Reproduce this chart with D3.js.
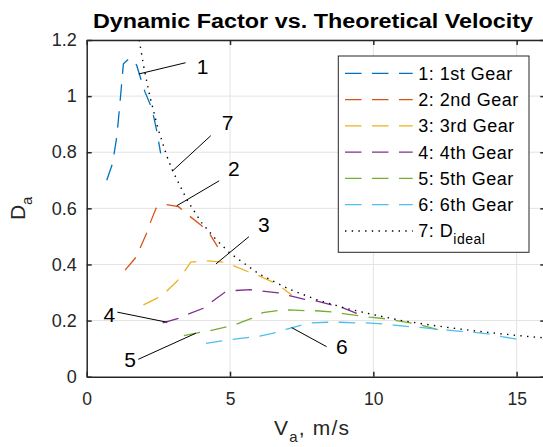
<!DOCTYPE html>
<html>
<head>
<meta charset="utf-8">
<script src="https://cdn.jsdelivr.net/npm/d3@7"></script>
<style>
  body { margin: 0; background: #fff; }
  svg { display: block; font-family: "Liberation Sans", Arial, sans-serif; }
  .axis text { font-size: 17.5px; fill: #262626; }
  .axis path, .axis line { stroke: #262626; }
</style>
</head>
<body>
<svg id="chart" width="543" height="447"></svg>
<script>
// speeds (m/s) and dynamic factor for each gear
var gear1V = [0.70, 0.90, 1.05, 1.16, 1.28, 1.49, 1.74, 1.92, 2.03, 2.27, 2.35, 2.46, 2.58];
var gear1D = [0.700, 0.760, 0.855, 0.975, 1.115, 1.135, 1.111, 1.051, 1.016, 0.957, 0.921, 0.868, 0.796];
var gear2V = [1.34, 1.69, 1.86, 2.09, 2.21, 2.42, 2.77, 3.20, 3.58, 3.98, 4.28, 4.57];
var gear2D = [0.380, 0.422, 0.458, 0.511, 0.547, 0.600, 0.614, 0.606, 0.573, 0.541, 0.511, 0.463];
var gear3V = [1.98, 2.44, 2.77, 3.14, 3.43, 3.63, 3.84, 4.21, 4.77, 5.11, 5.64, 6.02, 6.51, 6.84, 7.15];
var gear3D = [0.256, 0.279, 0.303, 0.339, 0.378, 0.408, 0.410, 0.413, 0.408, 0.396, 0.374, 0.359, 0.336, 0.315, 0.291];
var gear4V = [2.65, 3.20, 3.54, 4.07, 4.36, 4.82, 5.17, 5.72, 6.14, 6.68, 7.07, 7.61, 8.00, 8.55, 8.89, 9.42];
var gear4D = [0.192, 0.208, 0.223, 0.244, 0.267, 0.301, 0.307, 0.310, 0.305, 0.299, 0.289, 0.276, 0.270, 0.256, 0.247, 0.226];
var gear5V = [3.39, 3.95, 4.30, 4.90, 5.25, 5.75, 6.14, 6.72, 7.07, 7.65, 8.00, 8.55, 8.95, 9.51, 9.88, 10.46, 10.81, 11.39, 11.77, 12.30];
var gear5D = [0.146, 0.158, 0.164, 0.178, 0.188, 0.208, 0.228, 0.236, 0.238, 0.235, 0.235, 0.231, 0.225, 0.217, 0.212, 0.206, 0.200, 0.190, 0.181, 0.166];
var gear6V = [4.16, 4.71, 5.09, 5.67, 6.04, 6.60, 6.95, 7.50, 7.88, 8.43, 8.84, 9.36, 9.77, 10.32, 10.72, 11.30, 11.65, 12.21, 12.61, 13.16, 13.54, 14.13, 14.48, 15.05];
var gear6D = [0.119, 0.128, 0.133, 0.140, 0.145, 0.157, 0.169, 0.184, 0.192, 0.194, 0.194, 0.192, 0.192, 0.188, 0.184, 0.178, 0.176, 0.169, 0.166, 0.160, 0.158, 0.151, 0.143, 0.133];
var idealV = [1.83, 2.0, 2.2, 2.5, 2.8, 3.0, 3.5, 4.0, 4.5, 5.0, 6.0, 7.0, 8.0, 9.0, 10.0, 11.0, 12.0, 13.0, 14.0, 15.0, 16.0];
var idealD = [1.2, 1.1, 1.0, 0.88, 0.785, 0.733, 0.63, 0.55, 0.49, 0.44, 0.367, 0.315, 0.275, 0.245, 0.221, 0.2, 0.184, 0.17, 0.158, 0.147, 0.138];

var legendNames = ['1: 1st Gear', '2: 2nd Gear', '3: 3rd Gear', '4: 4th Gear', '5: 5th Gear', '6: 6th Gear'];
var xTicks = [0, 5, 10, 15];
var yTicks = [0, 0.2, 0.4, 0.6, 0.8, 1, 1.2];

// numbered callouts: tip on the curve, other end of the leader, label spot
var annoLabel = ['1', '7', '2', '3', '4', '5', '6'];
var annoTipV = [1.82, 2.99, 3.14, 4.51, 2.81, 3.81, 7.15];
var annoTipD = [1.079, 0.733, 0.609, 0.402, 0.194, 0.155, 0.175];
var annoEndV = [3.45, 4.33, 4.62, 5.66, 1.07, 1.80, 8.37];
var annoEndD = [1.119, 0.859, 0.698, 0.499, 0.230, 0.062, 0.107];
var annoTextV = [3.84, 4.71, 4.93, 5.98, 0.99, 1.72, 8.70];
var annoTextD = [1.107, 0.905, 0.744, 0.544, 0.223, 0.060, 0.107];
var annoAnchor = ['start', 'start', 'start', 'start', 'end', 'end', 'start'];

var colors = ['#0072BD', '#D95319', '#EDB120', '#7E2F8E', '#77AC30', '#4DBEEE'];
var dash = '16.5,10.5';

var margin = {left: 86.7, top: 40},
    width = 458.6,
    height = 336.7;

var svg = d3.select('#chart');
var g = svg.append('g').attr('transform', 'translate(' + margin.left + ',' + margin.top + ')');

var x = d3.scaleLinear().domain([0, 16]).range([0, width]);
var y = d3.scaleLinear().domain([0, 1.2]).range([height, 0]);

svg.append('defs').append('clipPath')
    .attr('id', 'plotClip')
  .append('rect')
    .attr('width', width)
    .attr('height', height);

// grid
g.append('g').selectAll('line.gx')
    .data(xTicks.slice(1))
  .enter().append('line')
    .attr('x1', d => x(d)).attr('x2', d => x(d))
    .attr('y1', 0).attr('y2', height)
    .attr('stroke', '#e3e3e3').attr('stroke-width', 1);
g.append('g').selectAll('line.gy')
    .data(yTicks.slice(1))
  .enter().append('line')
    .attr('x1', 0).attr('x2', width)
    .attr('y1', d => y(d)).attr('y2', d => y(d))
    .attr('stroke', '#e3e3e3').attr('stroke-width', 1);

var line = d3.line()
    .x(d => x(d[0]))
    .y(d => y(d[1]));

var gears = [
  d3.zip(gear1V, gear1D), d3.zip(gear2V, gear2D), d3.zip(gear3V, gear3D),
  d3.zip(gear4V, gear4D), d3.zip(gear5V, gear5D), d3.zip(gear6V, gear6D)
];

var plot = g.append('g').attr('clip-path', 'url(#plotClip)');
plot.selectAll('path.gear')
    .data(gears)
  .enter().append('path')
    .attr('class', 'gear')
    .attr('d', line)
    .attr('fill', 'none')
    .attr('stroke', (d, i) => colors[i])
    .attr('stroke-width', 1.3)
    .attr('stroke-dasharray', dash);

plot.append('path')
    .datum(d3.zip(idealV, idealD))
    .attr('d', line)
    .attr('fill', 'none')
    .attr('stroke', '#000')
    .attr('stroke-width', 1.4)
    .attr('stroke-dasharray', '1.4,5.3');

// callouts
var anno = g.append('g');
annoLabel.forEach(function(lab, i) {
  anno.append('line')
      .attr('x1', x(annoTipV[i])).attr('y1', y(annoTipD[i]))
      .attr('x2', x(annoEndV[i])).attr('y2', y(annoEndD[i]))
      .attr('stroke', '#000').attr('stroke-width', 1);
  anno.append('text')
      .attr('x', x(annoTextV[i]))
      .attr('y', y(annoTextD[i]))
      .attr('dy', '0.36em')
      .attr('text-anchor', annoAnchor[i])
      .style('font-size', '21px')
      .text(lab);
});

// axes, ticks pointing inward
g.append('g').attr('class', 'axis')
    .attr('transform', 'translate(0,' + height + ')')
    .call(d3.axisBottom(x).tickValues(xTicks).tickSize(-5).tickSizeOuter(0).tickPadding(16));
g.append('g').attr('class', 'axis')
    .call(d3.axisTop(x).tickValues(xTicks).tickSize(-5).tickSizeOuter(0).tickFormat(''));
g.append('g').attr('class', 'axis y')
    .call(d3.axisLeft(y).tickValues(yTicks).tickSize(-5).tickSizeOuter(0).tickPadding(10).tickFormat(d3.format('~g')));
g.append('g').attr('class', 'axis')
    .attr('transform', 'translate(' + width + ',0)')
    .call(d3.axisRight(y).tickValues(yTicks).tickSize(-5).tickSizeOuter(0).tickFormat(''));
g.selectAll('.axis path').attr('stroke-width', 1.5);
g.selectAll('.axis line').attr('stroke-width', 1.5);
g.selectAll('.axis.y text').style('font-size', '18px');

// title and labels
svg.append('text')
    .attr('x', 93)
    .attr('y', 28)
    .attr('textLength', 440)
    .attr('lengthAdjust', 'spacingAndGlyphs')
    .style('font-size', '19.5px')
    .style('font-weight', 'bold')
    .attr('fill', '#000')
    .text('Dynamic Factor vs. Theoretical Velocity');

var xl = svg.append('text')
    .attr('x', 274)
    .attr('y', 435)
    .style('font-size', '21px')
    .style('letter-spacing', '1.2px')
    .attr('fill', '#262626');
xl.append('tspan').text('V');
xl.append('tspan').attr('dy', 7).style('font-size', '15px').text('a');
xl.append('tspan').attr('dy', -7).text(', m/s');

var yl = svg.append('text')
    .attr('transform', 'translate(25,' + (margin.top + height / 2) + ') rotate(-90)')
    .attr('text-anchor', 'middle')
    .style('font-size', '21px')
    .attr('fill', '#262626');
yl.append('tspan').text('D');
yl.append('tspan').attr('dy', 7).style('font-size', '15px').text('a');

// legend
var lg = svg.append('g').attr('transform', 'translate(338.3,56)');
lg.append('rect')
    .attr('width', 190.7)
    .attr('height', 196.3)
    .attr('fill', '#fff')
    .attr('stroke', '#262626')
    .attr('stroke-width', 1);

var rowY = d3.scaleLinear().domain([0, 6]).range([17.3, 175]);
legendNames.forEach(function(name, i) {
  lg.append('line')
      .attr('x1', 6.7).attr('x2', 74.4)
      .attr('y1', rowY(i)).attr('y2', rowY(i))
      .attr('stroke', colors[i])
      .attr('stroke-width', 1.3)
      .attr('stroke-dasharray', dash);
  lg.append('text')
      .attr('x', 80)
      .attr('y', rowY(i))
      .attr('dy', '0.36em')
      .style('font-size', '18px')
      .style('letter-spacing', '0.5px')
      .attr('fill', '#000')
      .text(name);
});
lg.append('line')
    .attr('x1', 6.7).attr('x2', 74.4)
    .attr('y1', rowY(6)).attr('y2', rowY(6))
    .attr('stroke', '#000')
    .attr('stroke-width', 1.4)
    .attr('stroke-dasharray', '1.4,5.3');
var lt = lg.append('text')
    .attr('x', 80)
    .attr('y', rowY(6))
    .attr('dy', '0.36em')
    .style('font-size', '18px')
    .style('letter-spacing', '0.5px')
    .attr('fill', '#000');
lt.append('tspan').text('7: D');
lt.append('tspan').attr('dy', 7).style('font-size', '14px').text('ideal');
</script>
</body>
</html>
